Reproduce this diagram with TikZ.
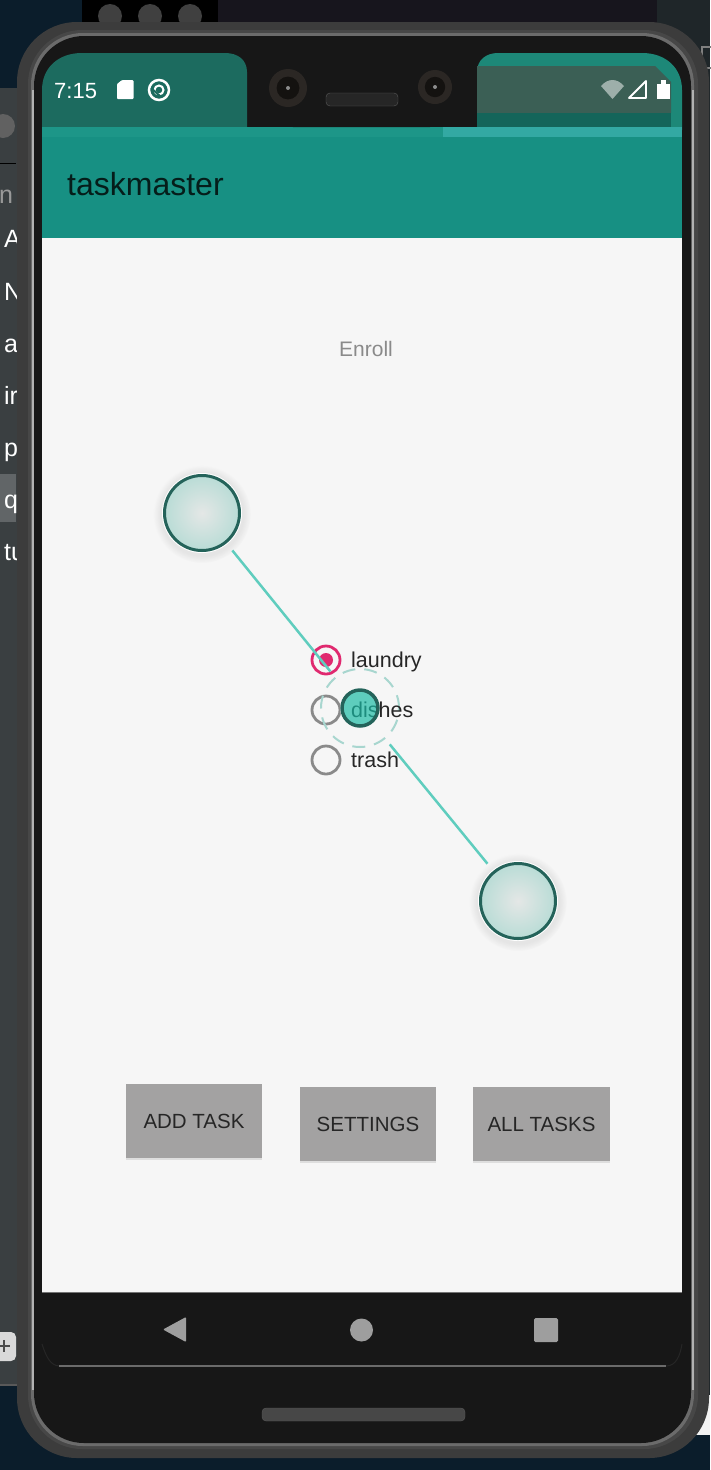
\documentclass[tikz,border=0pt]{standalone}
\usepackage{fontspec}
\setmainfont{Liberation Sans}
\usetikzlibrary{shadows}
\definecolor{deskdark}{HTML}{0B1D2B}
\definecolor{topbar}{HTML}{17151D}
\definecolor{topright}{HTML}{1F2629}
\definecolor{sidepanel}{HTML}{3A3F41}
\definecolor{framegrey}{HTML}{3C3C3C}
\definecolor{bezel}{HTML}{171717}
\definecolor{statusteal}{HTML}{1C6B5F}
\definecolor{tabteal}{HTML}{1D8878}
\definecolor{tabgrey}{HTML}{3B5F55}
\definecolor{tabstrip}{HTML}{14655A}
\definecolor{stripteal}{HTML}{1D9688}
\definecolor{stripbright}{HTML}{33A9A3}
\definecolor{appteal}{HTML}{179083}
\definecolor{screenbg}{HTML}{F6F6F6}
\definecolor{linkteal}{HTML}{5FCDBE}
\definecolor{midteal}{HTML}{1AB8A2}
\definecolor{ringteal}{HTML}{A8D6CF}
\definecolor{handledark}{HTML}{24635A}
\definecolor{handlefill}{HTML}{B9DCD6}
\definecolor{handlemid}{HTML}{E4E7E6}
\definecolor{pinkradio}{HTML}{E0296F}
\definecolor{greyradio}{HTML}{8A8A8A}
\definecolor{navgrey}{HTML}{9E9E9E}
\definecolor{buttongrey}{HTML}{A3A2A2}
\definecolor{lensouter}{HTML}{2B2724}
\definecolor{lensinner}{HTML}{141210}
\tikzset{
    dothalo/.style={circle, minimum size=80pt, inner sep=0pt, fill=white,
            circular drop shadow={shadow xshift=0pt, shadow yshift=-1pt, shadow scale=1.22, opacity=.14}},
    bigdot/.style={circle, minimum size=75pt, inner sep=0pt, line width=3pt, draw=handledark,
            shading=radial, inner color=handlemid, outer color=handlefill},
    radiobox/.style={circle, minimum size=28pt, inner sep=0pt, line width=2.8pt},
    radiotext/.style={anchor=base west, inner sep=0pt, font=\fontsize{21.5}{22}\selectfont, text=black!85},
    taskbutton/.style={rectangle, minimum width=136.5pt, minimum height=74pt, inner sep=0pt, fill=buttongrey,
            text=black!85, font=\fontsize{20.5}{21}\selectfont,
            drop shadow={shadow xshift=0pt, shadow yshift=-2pt, opacity=.2}},
    sideletter/.style={anchor=base west, inner sep=0pt, text=white, font=\fontsize{25}{25}\selectfont},
    linkline/.style={linkteal, line width=2.5pt}
}
\begin{document}
\begin{tikzpicture}[x=1pt, y=-1pt]
    \useasboundingbox (0,0) rectangle (710,1470);
    % Sfondo
    \fill[deskdark] (0,0) rectangle (710,1470);
    \fill[topbar] (218,0) rectangle (657,30);
    \fill[black] (82,0) rectangle (218,30);
    \fill[topright] (657,0) rectangle (710,130);
    \foreach \x in {110,150,190} {
            \fill[black!75] (\x,16) circle (12);
        }
    \draw[black!50, line width=2pt] (702,47) rectangle (712,68);
    \fill[topright] (690,130) rectangle (710,1400);
    \fill[black!5] (690,1395) rectangle (710,1435);
    % Pannello a sinistra
    \fill[sidepanel] (0,88) rectangle (22,1385);
    \fill[black!65] (0,1384) rectangle (18,1386);
    \begin{scope}
        \clip (0,88) rectangle (16,1385);
        \fill[black!62] (3,126) circle (12);
        \draw[black] (0,163) -- (16,163);
        \fill[sidepanel!80!white] (0,474) rectangle (16,522);
        \node[sideletter, text=black!40] (sideN) at (-1,203) {n};
        \foreach \n/\ypos/\letter in {a/247/A, b/300/N, c/352/a, d/404/ir, e/456/p, f/508/q, g/560/tu} {
                \node[sideletter] (side\n) at (4,\ypos) {\letter};
            }
        \fill[black!15, rounded corners=5pt] (-10,1332) rectangle (16,1361);
        \draw[black!70, line width=1.2pt] (0,1346) -- (10,1346) (4,1340) -- (4,1352);
    \end{scope}
    % Telefono
    \fill[framegrey, rounded corners=60pt] (17,22) rectangle (709,1458);
    \fill[black!72, rounded corners=54pt] (28,30) rectangle (698,1449);
    \fill[black!58, rounded corners=52pt] (31,33) rectangle (694,1446);
    \fill[bezel, rounded corners=50pt] (34,36) rectangle (691,1443);
    \draw[black!30, line width=2pt] (32.5,90) -- (32.5,1390);
    \draw[black!30, line width=2pt] (692.5,90) -- (692.5,1390);
    % Barra di stato
    \fill[statusteal] (42,130) -- (42,90) .. controls (42,68) and (58,53) .. (82,53) -- (225,53)
        .. controls (238,53) and (247,60) .. (247,72) -- (247,130) -- cycle;
    \fill[tabteal] (477,130) -- (477,72) .. controls (477,60) and (486,53) .. (498,53) -- (642,53)
        .. controls (666,53) and (682,68) .. (682,90) -- (682,130) -- cycle;
    \fill[tabgrey] (477,66) -- (655,66) -- (671,82) -- (671,113) -- (477,113) -- cycle;
    \fill[tabstrip] (477,113) rectangle (671,127);
    \fill[stripteal] (42,127) rectangle (682,137);
    \fill[stripbright] (443,127) rectangle (682,137);
    \fill[bezel] (247,45) -- (476,45) -- (476,85) .. controls (476,110) and (455,127) .. (430,127) -- (293,127)
        .. controls (268,127) and (249,110) .. (249,85) -- cycle;
    % Fotocamere e altoparlante
    \foreach \x/\ypos/\rad in {288/88/19, 435/87/17} {
            \fill[lensouter] (\x,\ypos) circle (\rad);
            \fill[lensinner] (\x,\ypos) circle (\rad*.6);
            \fill[black!45] (\x,\ypos) circle (2);
        }
    \fill[black!85, draw=black!65, rounded corners=4pt] (326,93) rectangle (398,106);
    % Icone di stato
    \node[anchor=base west, inner sep=0pt, text=white, font=\fontsize{22}{22}\selectfont] (clock) at (54,98) {7:15};
    \fill[white, rounded corners=1pt] (117,84) -- (122,80) -- (133.5,80) -- (133.5,99) -- (117,99) -- cycle;
    \draw[white, line width=2.5pt] (159,90) circle (10);
    \draw[white, line width=2pt] (159,90) circle (4.5);
    \draw[statusteal, line width=2pt] (151,88) -- (160,96);
    \fill[tabgrey!50!white] (601,86) .. controls (608,78) and (617,78) .. (624,86) -- (612.5,99) -- cycle;
    \draw[white, line width=1.8pt, line join=round] (629,98) -- (646,98) -- (646,81) -- cycle;
    \fill[white] (657,84) rectangle (670,99);
    \fill[white] (661,80) rectangle (666,84);
    % App bar
    \fill[appteal] (42,137) rectangle (682,238);
    \node[anchor=base west, inner sep=0pt, text=black!80!appteal, font=\fontsize{32}{32}\selectfont] (title) at (67,195) {taskmaster};
    % Contenuto
    \fill[screenbg] (42,238) rectangle (682,1292);
    \node[anchor=base, inner sep=0pt, text=greyradio, font=\fontsize{21}{21}\selectfont] (enroll) at (366,356) {Enroll};
    % Pulsanti
    \foreach \name/\x/\ypos/\txt in {addtask/194/1121/ADD TASK, settings/368/1124/SETTINGS, alltasks/541.5/1124/ALL TASKS} {
            \node[taskbutton] (\name) at (\x,\ypos) {\txt};
        }
    % Opzioni
    \foreach \name/\ypos/\col in {laundry/660/pinkradio, dishes/710/greyradio, trash/760/greyradio} {
            \node[radiobox, draw=\col] (\name) at (326,\ypos) {};
        }
    \fill[pinkradio] (laundry) circle (7);
    % Maniglie e linee
    \node[circle, minimum size=78pt, inner sep=0pt, draw=ringteal, line width=2pt, dash pattern=on 13pt off 9pt] (ring) at (360,708) {};
    \foreach \name/\x/\ypos in {start/202/513, end/518/901} {
            \node[dothalo] (\name) at (\x,\ypos) {};
            \node[bigdot] (\name core) at (\name) {};
            \draw[linkline, shorten <=8pt, shorten >=7pt] (\name) -- (ring);
        }
    \fill[white] (ring.center) circle (20);
    \foreach \name/\ypos in {laundry/667, dishes/717, trash/767} {
            \node[radiotext] (\name text) at (351,\ypos) {\name};
        }
    \node[circle, minimum size=36pt, inner sep=0pt, draw=handledark, line width=3.5pt, fill=midteal, fill opacity=.7, draw opacity=1] (mid) at (ring.center) {};
    % Barra di navigazione
    \fill[bezel] (42,1292) rectangle (682,1360);
    \draw[black!55] (42,1292) -- (682,1292);
    \draw[black!85, line width=1pt] (42,1344) .. controls (46,1356) and (50,1366) .. (60,1366);
    \draw[black!85, line width=1pt] (666,1366) .. controls (676,1366) and (680,1356) .. (682,1344);
    \draw[black!58, line width=1.5pt] (59,1366) -- (666,1366);
    \fill[navgrey, rounded corners=1pt] (186,1317) -- (186,1342) -- (163,1329.5) -- cycle;
    \fill[navgrey] (361.5,1330) circle (11.5);
    \fill[navgrey, rounded corners=1.5pt] (534,1318) rectangle (558,1342);
    \fill[black!72, draw=black!65, rounded corners=4pt] (262,1408) rectangle (465,1421);
\end{tikzpicture}
\end{document}
